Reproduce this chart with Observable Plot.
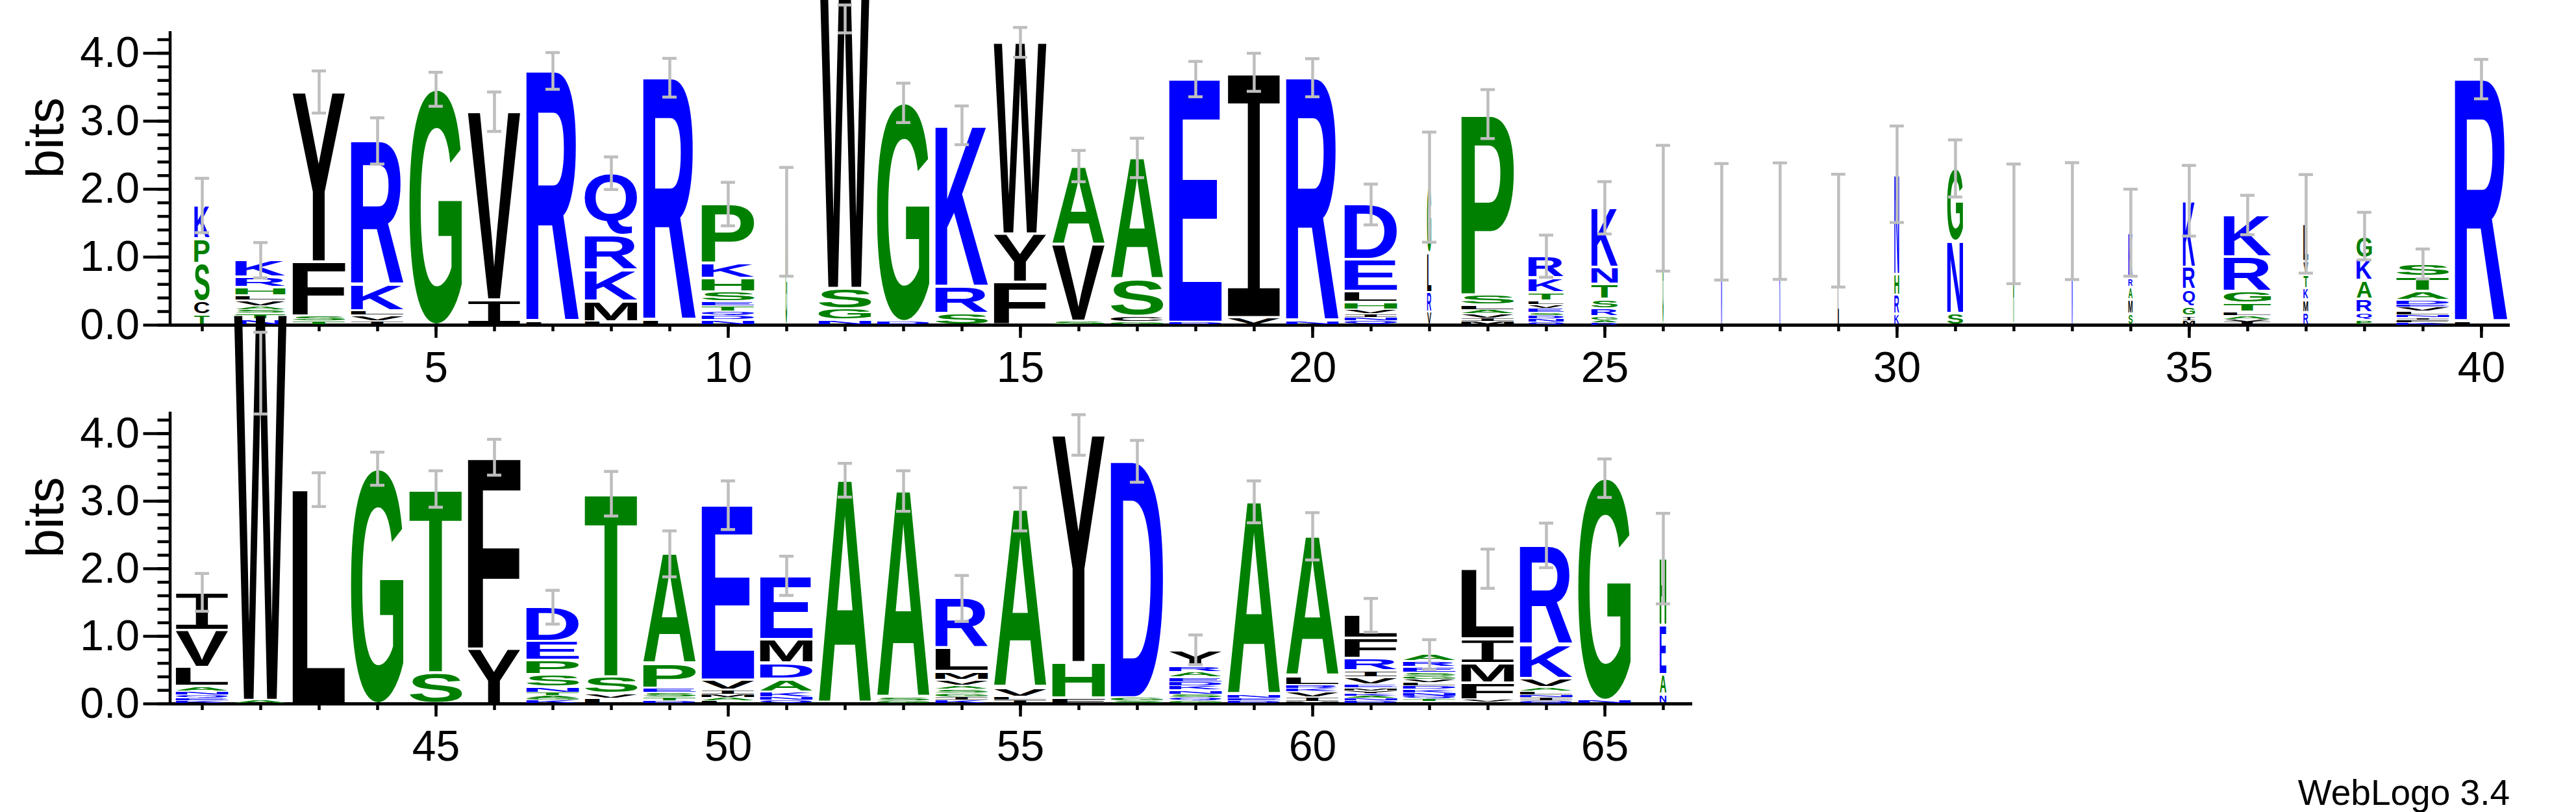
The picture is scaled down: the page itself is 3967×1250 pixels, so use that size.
<!DOCTYPE html>
<html>
<head>
<meta charset="utf-8">
<script src="https://cdn.jsdelivr.net/npm/d3@7"></script>
<script src="https://cdn.jsdelivr.net/npm/@observablehq/plot@0.6"></script>
<style>
  html, body { margin: 0; padding: 0; background: #fff; }
  #wrap { position: relative; width: 3967px; height: 1250px; overflow: hidden; background: #fff; }
  #wrap svg { display: block; }
  #caption { position: absolute; right: 102px; top: 1193px; font: 55px/55px 'Liberation Sans', Arial, sans-serif; color: #000; }
</style>
</head>
<body>
<div id="wrap"><div id="caption">WebLogo 3.4</div></div>
<script>
// ---------- DATA ----------
// letters of each position, listed from the top of the stack to the bottom
const stackLetters = [
  "KPSCT", "KRHLVASTN", "YFST", "RKLVI", "G", "VI", "RL", "QRKML", "RL", "PKHSETQDN",
  "KG", "WSGN", "GD", "KRS", "WYF", "AVS", "ASCG", "ED", "IV", "RN",
  "DELHVINQ", "GLRV", "PSLAVIM", "RKTLVESDNQ", "KNTSRGAD", "G", "N", "K", "L", "NHRK",
  "GNS", "A", "N", "KRAMS", "KRQGIM", "KRGTLAVI", "LVTKMR", "GKARQP", "STADEVLNIFK", "RL",
  "IVLANQEK", "WA", "L", "G", "TS", "FY", "DEPSNTAGK", "TSVL", "APESTD", "EVIMAL",
  "EMDAKNQ", "A", "ASG", "RLMVASGIK", "AVLI", "YHF", "DGS", "YRAEDKNSQG", "ANED", "ALRKVIM",
  "LFRIVEMYKAND", "ARESGVLDKNQTI", "LIMFVY", "RKVALNIQ", "GN", "HEAN"
];
// information (bits) of each letter, same order
const stackBits = [
  [0.49,0.36,0.56,0.20,0.15], [0.25,0.15,0.12,0.075,0.09,0.05,0.05,0.09,0.08], [2.50,0.80,0.08,0.05],
  [2.12,0.38,0.07,0.09,0.05], [3.47], [2.77,0.37], [3.70,0.04], [0.915,0.51,0.46,0.30,0.05], [3.58,0.06],
  [0.874,0.22,0.20,0.147,0.065,0.08,0.06,0.06,0.075],
  [0.32,1.20], [5.20,0.30,0.17,0.07], [3.22,0.05], [2.37,0.40,0.17], [2.82,0.71,0.63], [1.15,1.13,0.06],
  [1.79,0.54,0.09,0.04], [3.58,0.04], [3.61,0.11], [3.59,0.05],
  [0.81,0.47,0.16,0.11,0.06,0.055,0.05,0.06], [0.97,0.58,0.29,0.19], [2.66,0.15,0.075,0.06,0.06,0.05,0.05],
  [0.32,0.215,0.126,0.055,0.058,0.06,0.04,0.05,0.05,0.04], [0.88,0.246,0.22,0.14,0.12,0.05,0.04,0.03],
  [1.72], [1.52], [1.53], [1.39], [1.47,0.31,0.28,0.16],
  [1.075,1.06,0.17], [1.49], [1.53], [0.68,0.13,0.18,0.21,0.16], [0.98,0.33,0.25,0.14,0.07,0.06],
  [0.615,0.51,0.17,0.137,0.058,0.05,0.04,0.04], [0.55,0.20,0.20,0.17,0.19,0.18], [0.33,0.325,0.27,0.20,0.11,0.075],
  [0.19,0.21,0.14,0.06,0.04,0.06,0.05,0.04,0.04,0.04,0.03], [3.58,0.04],
  [0.565,0.55,0.28,0.07,0.055,0.05,0.04,0.04], [5.72,0.05], [3.17], [3.48], [2.72,0.46], [2.84,0.81],
  [0.51,0.28,0.205,0.19,0.08,0.045,0.04,0.03,0.05], [2.71,0.25,0.07,0.08], [1.63,0.36,0.07,0.07,0.05,0.04],
  [2.59,0.15,0.06,0.05,0.05,0.04],
  [0.94,0.35,0.24,0.19,0.08,0.045,0.05], [3.31], [3.06,0.05,0.04], [0.74,0.34,0.13,0.08,0.06,0.06,0.05,0.05,0.05],
  [2.64,0.14,0.05,0.05], [3.37,0.52,0.09], [3.50,0.05,0.04], [0.24,0.09,0.08,0.07,0.06,0.06,0.06,0.05,0.05,0.04],
  [2.86,0.05,0.04,0.04], [2.07,0.14,0.05,0.045,0.085,0.06,0.03],
  [0.34,0.30,0.18,0.10,0.11,0.05,0.04,0.04,0.04,0.03,0.04,0.04],
  [0.10,0.09,0.08,0.05,0.05,0.05,0.05,0.05,0.05,0.05,0.04,0.04,0.03],
  [1.04,0.36,0.29,0.25,0.04,0.02], [1.47,0.50,0.13,0.06,0.055,0.04,0.05,0.04], [3.29,0.05], [0.99,0.73,0.29,0.14]
];
// relative stack width (fraction of non-gap sequences)
const stackWidth = [
  0.29, 0.95, 1, 1, 1, 1, 1, 1, 1, 1,
  0.03, 1, 1, 1, 1, 1, 1, 1, 1, 1,
  1, 0.08, 1, 0.67, 0.5, 0.02, 0.02, 0.02, 0.02, 0.09,
  0.3, 0.02, 0.02, 0.08, 0.23, 0.9, 0.09, 0.29, 1, 1,
  1, 1, 1, 1, 1, 1, 1, 1, 1, 1,
  1, 1, 1, 1, 1, 1, 1, 1, 1, 1,
  1, 1, 1, 1, 1, 0.125
];
// error bar half-widths (bits)
const errHalf = [
  0.40, 0.26, 0.31, 0.34, 0.25, 0.29, 0.27, 0.24, 0.285, 0.32,
  0.80, 0.205, 0.29, 0.285, 0.22, 0.23, 0.29, 0.26, 0.28, 0.28,
  0.30, 0.81, 0.36, 0.31, 0.385, 0.925, 0.857, 0.857, 0.83, 0.71,
  0.42, 0.88, 0.86, 0.64, 0.52, 0.29, 0.725, 0.35, 0.22, 0.29,
  0.28, 0.605, 0.25, 0.245, 0.27, 0.265, 0.25, 0.33, 0.34, 0.36,
  0.29, 0.25, 0.30, 0.34, 0.32, 0.30, 0.31, 0.22, 0.31, 0.35,
  0.25, 0.22, 0.29, 0.33, 0.285, 0.67
];
// error bar centres that are not at the stack top
const errMid = {12: 4.505, 42: 4.895};
const topTicks = [5, 10, 15, 20, 25, 30, 35, 40];
const bottomTicks = [45, 50, 55, 60, 65];
const yMajorTicks = [0, 1, 2, 3, 4];

// hydrophobicity colour scheme
const colorGroups = [["RKDENQ", "#0000ff"], ["SGHTAP", "#008000"], ["YVMCLFIW", "#000000"]];
const colorOf = {};
for (const [ls, c] of colorGroups) for (const l of ls) colorOf[l] = c;

const FONT = "'Liberation Sans', Arial, Helvetica, sans-serif";
const FONT_I = "'Liberation Mono', 'DejaVu Sans Mono', monospace";
const yMinorTicks = d3.range(0, 22).map(i => i / 5);

function rowData(first, last) {
  const recs = [], errs = [];
  for (let p = first; p <= last; p++) {
    const i = p - 1, ls = stackLetters[i], hs = stackBits[i];
    const total = d3.sum(hs), half = 0.45 * stackWidth[i];
    let y = total;
    for (let k = 0; k < ls.length; k++) {
      recs.push({pos: p, letter: ls[k], x1: p - half, x2: p + half, y1: y - hs[k], y2: y, color: colorOf[ls[k]]});
      y -= hs[k];
    }
    const mid = errMid[p] ?? total;
    errs.push({pos: p, lo: mid - errHalf[i], hi: mid + errHalf[i]});
  }
  return {recs, errs};
}

const canvas = document.createElement("canvas");
const ctx = canvas.getContext("2d");
function glyphFont(ch) {
  return ch === "I" ? {family: FONT_I, weight: "normal"} : {family: FONT, weight: "bold"};
}
function measure(ch) {
  const f = glyphFont(ch);
  ctx.font = `${f.weight} 200px ${f.family}`;
  const m = ctx.measureText(ch);
  return {l: m.actualBoundingBoxLeft, r: m.actualBoundingBoxRight, a: m.actualBoundingBoxAscent, d: m.actualBoundingBoxDescent};
}

function glyphify(svg, recs) {
  const ns = "http://www.w3.org/2000/svg";
  const rects = svg.querySelectorAll('g[aria-label="rect"] rect');
  rects.forEach((r, i) => {
    const d = recs[i];
    if (!d) return;
    const x = +r.getAttribute("x"), y = +r.getAttribute("y");
    const w = +r.getAttribute("width"), h = +r.getAttribute("height");
    const inset = Math.min(2, h * 0.15);
    const f = glyphFont(d.letter);
    const m = measure(d.letter);
    const t = document.createElementNS(ns, "text");
    t.textContent = d.letter;
    t.setAttribute("x", 0);
    t.setAttribute("y", 0);
    t.setAttribute("fill", d.color);
    t.setAttribute("style", `font-family:${f.family};font-weight:${f.weight};font-size:200px;text-anchor:start;`);
    const sx = w / (m.l + m.r), sy = (h - 2 * inset) / (m.a + m.d);
    t.setAttribute("transform", `translate(${x},${y + inset}) scale(${sx},${sy}) translate(${m.l},${m.a})`);
    r.replaceWith(t);
  });
}

function makeRow({first, last, xDomain, ticks, height, marginTop, marginBottom, marginRight}) {
  const {recs, errs} = rowData(first, last);
  const capHalf = 0.122;
  const svg = Plot.plot({
    width: 3967, height, marginLeft: 261.5, marginRight, marginTop, marginBottom,
    x: {domain: xDomain, label: null},
    y: {domain: [0, 4.32], label: null},
    color: {type: "identity"},
    style: {fontFamily: FONT, overflow: "visible", background: "transparent", color: "#000"},
    marks: [
      Plot.axisY({ticks: yMinorTicks, tickSize: 19, tickFormat: () => "", strokeWidth: 4.5, label: null}),
      Plot.axisY({ticks: yMajorTicks, tickSize: 41, tickPadding: 6, fontSize: 66, tickFormat: d3.format(".1f"), strokeWidth: 4.5, label: null}),
      Plot.axisX({ticks: d3.range(first, last + 1), tickSize: 10, tickFormat: () => "", strokeWidth: 4.5, label: null}),
      Plot.axisX({ticks, tickSize: 20, tickPadding: 21, fontSize: 66, tickFormat: d => String(d), strokeWidth: 4.5, label: null}),
      Plot.ruleY([0], {strokeWidth: 5}),
      Plot.ruleX([xDomain[0]], {strokeWidth: 4.5}),
      Plot.text(["bits"], {text: d => d, frameAnchor: "left", dx: -191, rotate: -90, fontSize: 80}),
      Plot.rect(recs, {x1: "x1", x2: "x2", y1: "y1", y2: "y2", fill: "color"}),
      Plot.ruleX(errs, {x: "pos", y1: "lo", y2: "hi", stroke: "#bebebe", strokeWidth: 4.5}),
      Plot.ruleY(errs, {y: "lo", x1: d => d.pos - capHalf, x2: d => d.pos + capHalf, stroke: "#bebebe", strokeWidth: 4.5}),
      Plot.ruleY(errs, {y: "hi", x1: d => d.pos - capHalf, x2: d => d.pos + capHalf, stroke: "#bebebe", strokeWidth: 4.5})
    ]
  });
  glyphify(svg, recs);
  return svg;
}

function draw() {
  const wrap = document.getElementById("wrap");
  const top = makeRow({first: 1, last: 40, xDomain: [0.45, 40.49], ticks: topTicks,
    height: 620, marginTop: 48, marginBottom: 120, marginRight: 102});
  const bottom = makeRow({first: 41, last: 66, xDomain: [40.45, 66.5], ticks: bottomTicks,
    height: 630, marginTop: 13.7, marginBottom: 167, marginRight: 1361});
  wrap.insertBefore(top, wrap.firstChild);
  wrap.insertBefore(bottom, document.getElementById("caption"));
}

Promise.all([
  document.fonts.load(`bold 200px 'Liberation Sans'`),
  document.fonts.load(`200px 'Liberation Mono'`),
  document.fonts.load(`66px 'Liberation Sans'`)
]).catch(() => {}).then(draw);
</script>
</body>
</html>
